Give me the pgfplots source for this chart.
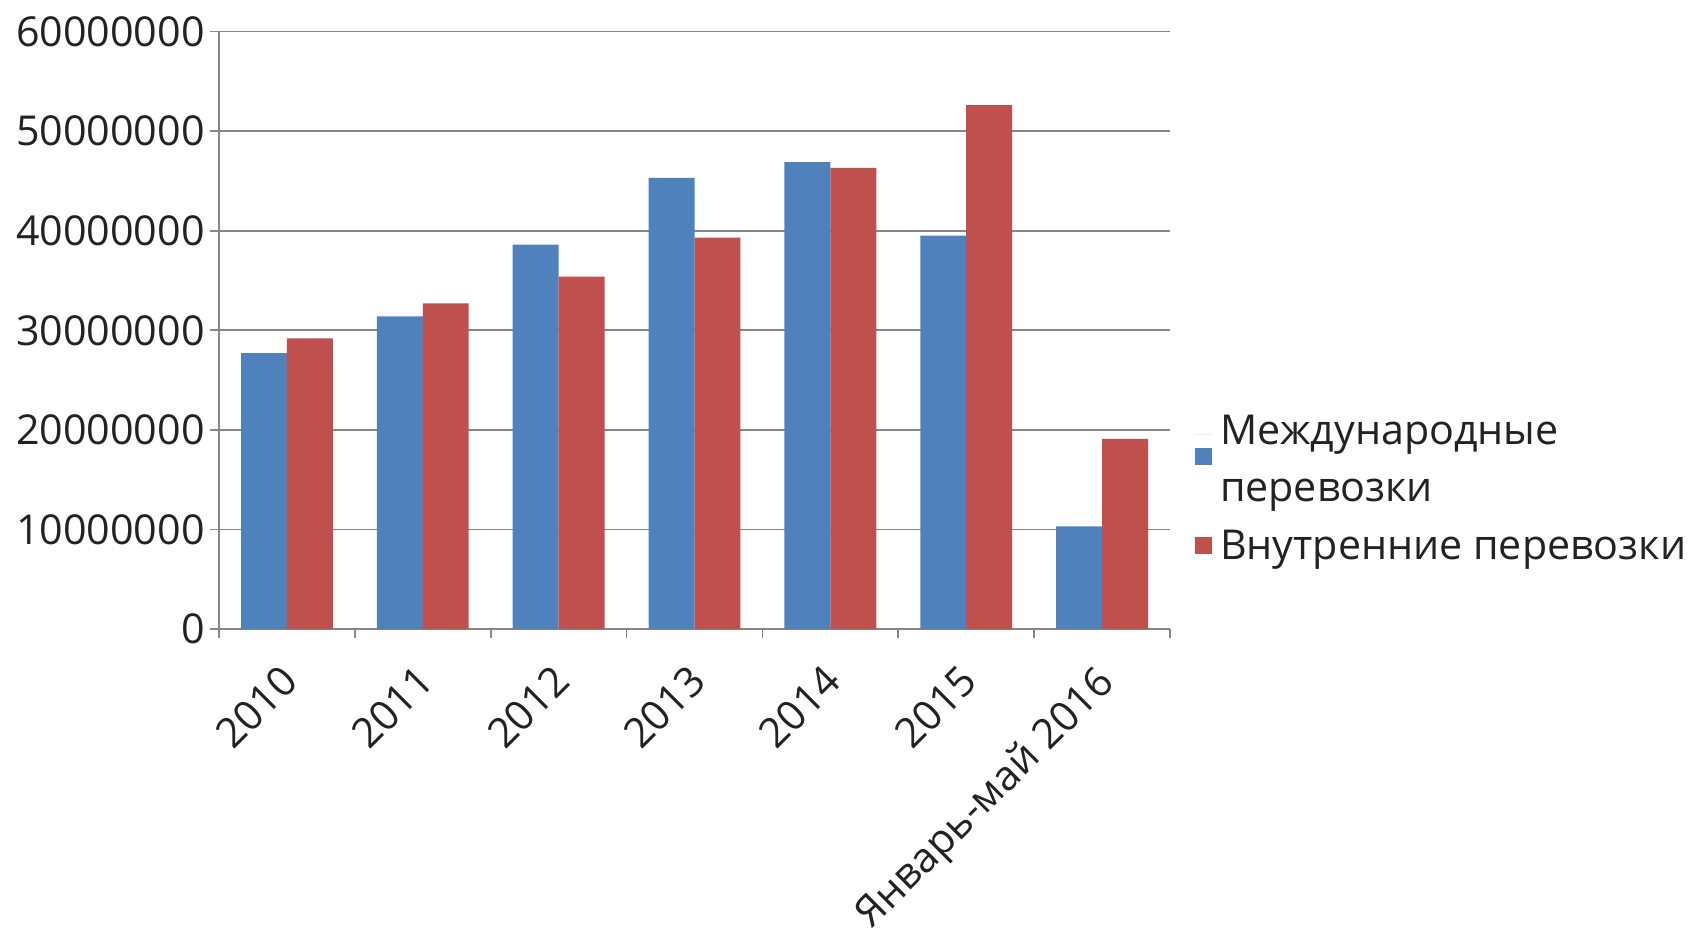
\documentclass[border=0pt]{standalone}
\usepackage{fontspec}
\setmainfont{Open Sans}
\usepackage{pgfplots}
\pgfplotsset{compat=1.18}

\definecolor{serA}{HTML}{4F81BD}
\definecolor{serB}{HTML}{C0504D}
\definecolor{gridc}{HTML}{868686}
\definecolor{txt}{HTML}{222222}

\begin{document}
\begin{tikzpicture}
\begin{axis}[
  scale only axis,
  width=475.5pt, height=298.75pt,
  xmin=-0.5, xmax=6.5,
  ymin=0, ymax=60000000,
  axis lines=left,
  axis line style={-, gridc, line width=0.8pt},
  ymajorgrids,
  grid style={gridc, line width=0.8pt},
  tick align=outside,
  tick style={gridc, line width=0.8pt},
  major tick length=4.5pt,
  ytick={0,10000000,20000000,30000000,40000000,50000000,60000000},
  yticklabels={0,10000000,20000000,30000000,40000000,50000000,60000000},
  scaled y ticks=false,
  xtick={-0.5,0.5,1.5,2.5,3.5,4.5,5.5,6.5},
  x tick label as interval,
  xticklabels={2010,2011,2012,2013,2014,2015,Январь-май 2016},
  /pgf/number format/assume math mode=true,
  ticklabel style={font=\fontsize{20.6}{25}\selectfont, text=txt},
  yticklabel style={inner sep=0pt, xshift=-2.5pt},
  xticklabel style={rotate=45, anchor=north east, inner sep=0pt, yshift=-5.9pt, xshift=-11.5pt},
  ybar,
  bar width=0.338,
  legend style={draw=none, fill=none, at={(1.0263,0.3593)}, anchor=north west,
    inner sep=0pt, outer sep=0pt, font=\fontsize{20.6}{25}\selectfont, text=txt,
    nodes={inner sep=0pt, text height=15pt, text depth=4.25pt},
    row sep=9.5pt,
    /tikz/every odd column/.append style={column sep=4pt}},
  legend cell align=left,
]
\addplot[fill=serA, draw=none, bar shift=-0.169,
  legend image code/.code={\path (0pt,0pt) rectangle (8.5pt,0pt);
    \fill[serA, overlay] (0pt,-15.75pt) rectangle (8.5pt,-7.25pt);}] coordinates {
  (0,27700000) (1,31400000) (2,38600000) (3,45300000) (4,46900000) (5,39500000) (6,10300000)
};
\addlegendentry{Международные}
\addlegendimage{empty legend}
\addlegendentry{перевозки}
\addplot[fill=serB, draw=none, bar shift=0.169,
  legend image code/.code={\path (0pt,0pt) rectangle (8.5pt,0pt);
    \fill[serB, overlay] (0pt,-2.75pt) rectangle (8.5pt,5.75pt);}] coordinates {
  (0,29200000) (1,32700000) (2,35400000) (3,39300000) (4,46300000) (5,52600000) (6,19100000)
};
\addlegendentry{Внутренние перевозки}
\coordinate (bbl) at (rel axis cs:-0.2303,-0.505);
\coordinate (btr) at (rel axis cs:1.5468,1.0528);
\end{axis}
\pgfresetboundingbox
\path[use as bounding box] (bbl) rectangle (btr);
\end{tikzpicture}
\end{document}
